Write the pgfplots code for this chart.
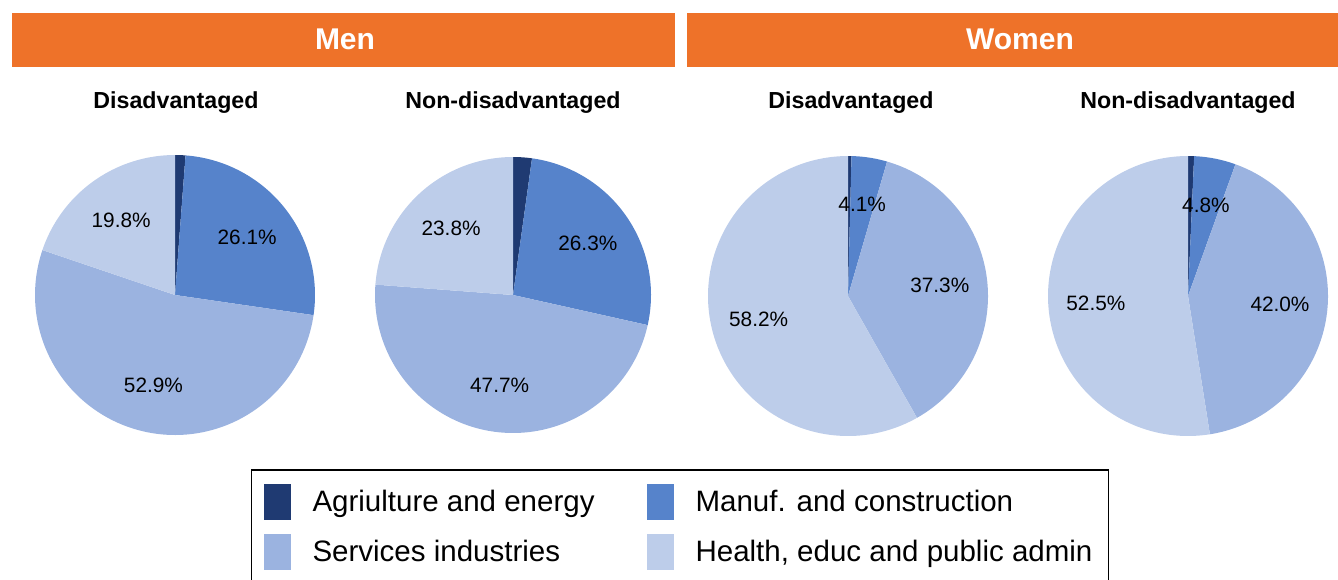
\documentclass[border=0pt]{standalone}
\usepackage{pgfplots}
\pgfplotsset{compat=1.18}
\usepackage{fontspec}
\setmainfont{Liberation Sans}

\definecolor{agri}{HTML}{1F3A72}
\definecolor{manuf}{HTML}{5683CB}
\definecolor{serv}{HTML}{9BB3E0}
\definecolor{health}{HTML}{BDCDEA}
\definecolor{hdr}{HTML}{EE7229}

\tikzset{pielbl/.style={font=\fontsize{10.4}{12}\selectfont, inner sep=0pt}}

% one wedge: #1 start (%), #2 share (%), #3 colour
\newcommand\pieslice[3]{%
  \pgfmathsetmacro\pend{#1+#2}%
  \edef\doslice{\noexpand\addplot[fill=#3,draw=none,domain=#1:\pend,samples=120]
    ({sin(3.6*x)},{cos(3.6*x)}) -- (0,0) -- cycle;}%
  \doslice
}
% its label: #1 start (%), #2 share (%)
\newcommand\pielabel[2]{%
  \pgfmathsetmacro\pmid{#1+#2/2}%
  \pgfmathsetmacro\xl{0.66*sin(3.6*\pmid)}%
  \pgfmathsetmacro\yl{0.66*cos(3.6*\pmid)}%
  \edef\dolabel{\noexpand\node[pielbl] at (\xl,\yl) {#2\noexpand\%};}%
  \dolabel
}
% shares of agriculture, manufacturing, services, health (clockwise from top)
\newcommand\pie[4]{%
  \pgfmathsetmacro\cumA{#1}%
  \pgfmathsetmacro\cumB{#1+#2}%
  \pgfmathsetmacro\cumC{#1+#2+#3}%
  \pieslice{0}{#1}{agri}%
  \pieslice{\cumA}{#2}{manuf}%
  \pieslice{\cumB}{#3}{serv}%
  \pieslice{\cumC}{#4}{health}%
  \pielabel{\cumA}{#2}%
  \pielabel{\cumB}{#3}%
  \pielabel{\cumC}{#4}%
}

\pgfplotsset{pieaxis/.style={
  hide axis, scale only axis, clip=false,
  width=#1, height=#1,
  xmin=-1, xmax=1, ymin=-1, ymax=1,
  anchor=center}}

\begin{document}
\begin{tikzpicture}
\useasboundingbox (0pt,0pt) rectangle (669pt,-289.5pt);

% headers
\fill[hdr] (6pt,-6.5pt) rectangle (337.5pt,-33.5pt);
\fill[hdr] (343.5pt,-6.5pt) rectangle (669pt,-33.5pt);
\node[text=white, font=\fontsize{15}{17}\bfseries] at (172.5pt,-19.5pt) {Men};
\node[text=white, font=\fontsize{15}{17}\bfseries] at (510pt,-19.5pt) {Women};

\begin{scope}[every node/.style={font=\fontsize{11.6}{13}\bfseries}]
\node at (88pt,-51.5pt) {Disadvantaged};
\node at (256.5pt,-51.5pt) {Non-disadvantaged};
\node at (425.5pt,-51.5pt) {Disadvantaged};
\node at (594pt,-51.5pt) {Non-disadvantaged};
\end{scope}

\begin{axis}[pieaxis=140pt, at={(87.5pt,-147.5pt)}]
  \pie{1.2}{26.1}{52.9}{19.8}
\end{axis}
\begin{axis}[pieaxis=138pt, at={(256.5pt,-147.5pt)}]
  \pie{2.2}{26.3}{47.7}{23.8}
\end{axis}
\begin{axis}[pieaxis=140pt, at={(424pt,-148pt)}]
  \pie{0.4}{4.1}{37.3}{58.2}
\end{axis}
\begin{axis}[pieaxis=140pt, at={(594pt,-148pt)}]
  \pie{0.7}{4.8}{42.0}{52.5}
\end{axis}

% legend
\begin{axis}[hide axis, scale only axis, width=10pt, height=10pt,
  xmin=0, xmax=1, ymin=0, ymax=1,
  at={(340pt,-263.5pt)}, anchor=center,
  legend columns=2,
  legend cell align=left,
  legend image code/.code={\fill[#1,draw=none] (0pt,-9pt) rectangle (13.5pt,9pt);},
  legend style={at={(0.5,0.5)}, anchor=center, draw=black, line width=0.8pt,
    font=\fontsize{14.75}{17}\selectfont,
    inner xsep=6pt, inner ysep=7pt, row sep=7pt,
    /tikz/every odd column/.append style={column sep=9pt},
    /tikz/every even column/.append style={column sep=24pt}}]
  \addlegendimage{fill=agri}
  \addlegendentry{Agriulture and energy}
  \addlegendimage{fill=manuf}
  \addlegendentry{Manuf. and construction}
  \addlegendimage{fill=serv}
  \addlegendentry{Services industries}
  \addlegendimage{fill=health}
  \addlegendentry{Health, educ and public admin}
\end{axis}
\end{tikzpicture}
\end{document}
